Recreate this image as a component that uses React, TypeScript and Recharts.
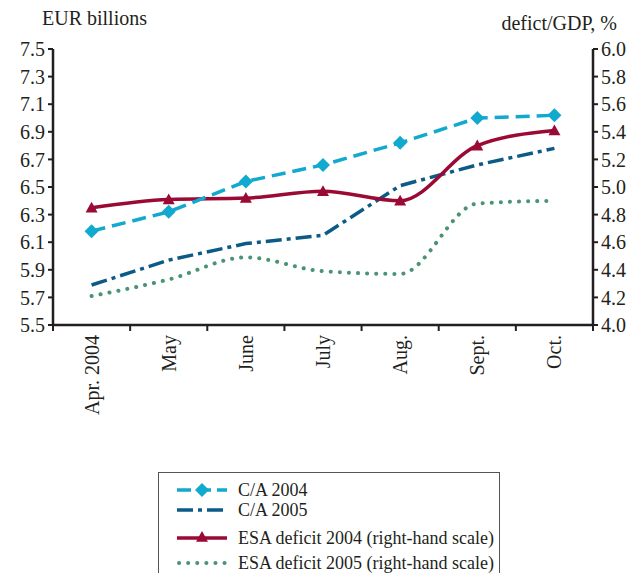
import { ComposedChart, Line, XAxis, YAxis } from "recharts"

const months = ["Apr. 2004", "May", "June", "July", "Aug.", "Sept.", "Oct."]
const ca2004 = [6.18, 6.32, 6.54, 6.66, 6.82, 7.0, 7.02]
const ca2005 = [5.79, 5.97, 6.09, 6.15, 6.51, 6.66, 6.78]
const esa2004 = [4.85, 4.91, 4.92, 4.97, 4.9, 5.3, 5.41]
const esa2005 = [4.21, 4.33, 4.49, 4.39, 4.37, 4.88, 4.9]
const leftTicks = [5.5, 5.7, 5.9, 6.1, 6.3, 6.5, 6.7, 6.9, 7.1, 7.3, 7.5]
const rightTicks = [4.0, 4.2, 4.4, 4.6, 4.8, 5.0, 5.2, 5.4, 5.6, 5.8, 6.0]

const data = months.map((m, i) => ({
  month: m,
  ca2004: ca2004[i],
  ca2005: ca2005[i],
  esa2004: esa2004[i],
  esa2005: esa2005[i],
}))

const FONT = '"Liberation Serif", "Times New Roman", serif'
const INK = "#231f20"
const CYAN = "#12a9cf"
const NAVY = "#0b5b86"
const RED = "#9a0a34"
const GREEN = "#4a9474"

const W = 642
const H = 573
const LEFT = 53
const RIGHT = 593
const PLOT_W = RIGHT - LEFT

function Diamond({ cx, cy, r = 7 }: any) {
  return <polygon points={`${cx},${cy - r} ${cx + r},${cy} ${cx},${cy + r} ${cx - r},${cy}`} fill={CYAN} />
}

function Triangle({ cx, cy, r = 6 }: any) {
  return <polygon points={`${cx},${cy - r} ${cx + r},${cy + r * 0.8} ${cx - r},${cy + r * 0.8}`} fill={RED} />
}

function XTick({ x, y, payload, index }: any) {
  const bw = PLOT_W / months.length
  const last = index === months.length - 1
  return (
    <g>
      <line x1={x - bw / 2} x2={x - bw / 2} y1={y} y2={y + 6} stroke={INK} strokeWidth={2} />
      {last && <line x1={x + bw / 2} x2={x + bw / 2} y1={y - 4} y2={y + 6} stroke={INK} strokeWidth={2} />}
      <text
        x={x}
        y={y + 10}
        transform={`rotate(-90, ${x}, ${y + 10})`}
        textAnchor="end"
        dominantBaseline="central"
        fontFamily={FONT}
        fontSize={20}
        fill={INK}
      >
        {payload.value}
      </text>
    </g>
  )
}

const legendRows = [
  { label: "C/A 2004", top: 17, kind: "ca2004" },
  { label: "C/A 2005", top: 37, kind: "ca2005" },
  { label: "ESA deficit 2004 (right-hand scale)", top: 65, kind: "esa2004" },
  { label: "ESA deficit 2005 (right-hand scale)", top: 90, kind: "esa2005" },
]

function Sample({ kind }: { kind: string }) {
  return (
    <svg width={54} height={16} style={{ display: "block" }}>
      {kind === "ca2004" && (
        <>
          <line x1={2} x2={52} y1={8} y2={8} stroke={CYAN} strokeWidth={3.5} strokeDasharray="14 6" />
          <Diamond cx={27} cy={8} r={7} />
        </>
      )}
      {kind === "ca2005" && (
        <line x1={2} x2={52} y1={8} y2={8} stroke={NAVY} strokeWidth={3.5} strokeDasharray="16 5 4 5" />
      )}
      {kind === "esa2004" && (
        <>
          <line x1={2} x2={52} y1={8} y2={8} stroke={RED} strokeWidth={3.5} />
          <Triangle cx={27} cy={7} r={6} />
        </>
      )}
      {kind === "esa2005" && (
        <line x1={4} x2={52} y1={8} y2={8} stroke={GREEN} strokeWidth={4} strokeDasharray="0.1 9" strokeLinecap="round" />
      )}
    </svg>
  )
}

export default function App() {
  return (
    <div style={{ position: "absolute", left: 0, top: 0, width: W, height: H, overflow: "hidden", background: "#fff", fontFamily: FONT }}>
      <ComposedChart width={W} height={H} data={data} margin={{ top: 49, right: 0, bottom: 148, left: 0 }}>
        <XAxis
          dataKey="month"
          xAxisId="m"
          scale="band"
          height={100}
          interval={0}
          tickSize={0}
          tickMargin={0}
          tick={<XTick />}
          axisLine={{ stroke: INK, strokeWidth: 2.5 }}
        />
        <YAxis
          yAxisId="l"
          width={LEFT}
          domain={[5.5, 7.5]}
          ticks={leftTicks}
          interval={0}
          tickFormatter={(v: number) => v.toFixed(1)}
          tickSize={5}
          tickMargin={3}
          tick={{ fill: INK, fontSize: 20, fontFamily: FONT }}
          tickLine={{ stroke: INK, strokeWidth: 2 }}
          axisLine={{ stroke: INK, strokeWidth: 2.5 }}
        />
        <YAxis
          yAxisId="r"
          orientation="right"
          width={W - RIGHT}
          domain={[4.0, 6.0]}
          ticks={rightTicks}
          interval={0}
          tickFormatter={(v: number) => v.toFixed(1)}
          tickSize={5}
          tickMargin={3}
          tick={{ fill: INK, fontSize: 20, fontFamily: FONT }}
          tickLine={{ stroke: INK, strokeWidth: 2 }}
          axisLine={{ stroke: INK, strokeWidth: 2.5 }}
        />
        <Line
          xAxisId="m"
          yAxisId="r"
          dataKey="esa2005"
          type="monotone"
          stroke={GREEN}
          strokeWidth={4}
          strokeDasharray="0.1 9"
          strokeLinecap="round"
          dot={false}
          activeDot={false}
          isAnimationActive={false}
        />
        <Line
          xAxisId="m"
          yAxisId="l"
          dataKey="ca2005"
          type="linear"
          stroke={NAVY}
          strokeWidth={3.5}
          strokeDasharray="16 5 4 5"
          dot={false}
          activeDot={false}
          isAnimationActive={false}
        />
        <Line
          xAxisId="m"
          yAxisId="r"
          dataKey="esa2004"
          type="monotone"
          stroke={RED}
          strokeWidth={3.5}
          dot={(p: any) => <Triangle key={`t${p.index}`} cx={p.cx} cy={p.cy} r={6} />}
          activeDot={false}
          isAnimationActive={false}
        />
        <Line
          xAxisId="m"
          yAxisId="l"
          dataKey="ca2004"
          type="linear"
          stroke={CYAN}
          strokeWidth={3.5}
          strokeDasharray="14 7"
          dot={(p: any) => <Diamond key={`d${p.index}`} cx={p.cx} cy={p.cy} r={7} />}
          activeDot={false}
          isAnimationActive={false}
        />
      </ComposedChart>

      <div style={{ position: "absolute", left: 42, top: 7, fontSize: 20, color: INK, whiteSpace: "nowrap" }}>EUR billions</div>
      <div style={{ position: "absolute", right: 25, top: 12, fontSize: 20, color: INK, whiteSpace: "nowrap" }}>defict/GDP, %</div>

      <div
        style={{
          position: "absolute",
          left: 158,
          top: 472,
          width: 342,
          height: 120,
          border: "1px solid #555",
          boxSizing: "border-box",
        }}
      >
        {legendRows.map((r) => (
          <div
            key={r.kind}
            style={{ position: "absolute", left: 16, top: r.top - 9, display: "flex", alignItems: "center", height: 18 }}
          >
            <Sample kind={r.kind} />
            <span style={{ marginLeft: 9, fontSize: 18, color: INK, whiteSpace: "nowrap", lineHeight: "18px" }}>{r.label}</span>
          </div>
        ))}
      </div>
    </div>
  )
}
